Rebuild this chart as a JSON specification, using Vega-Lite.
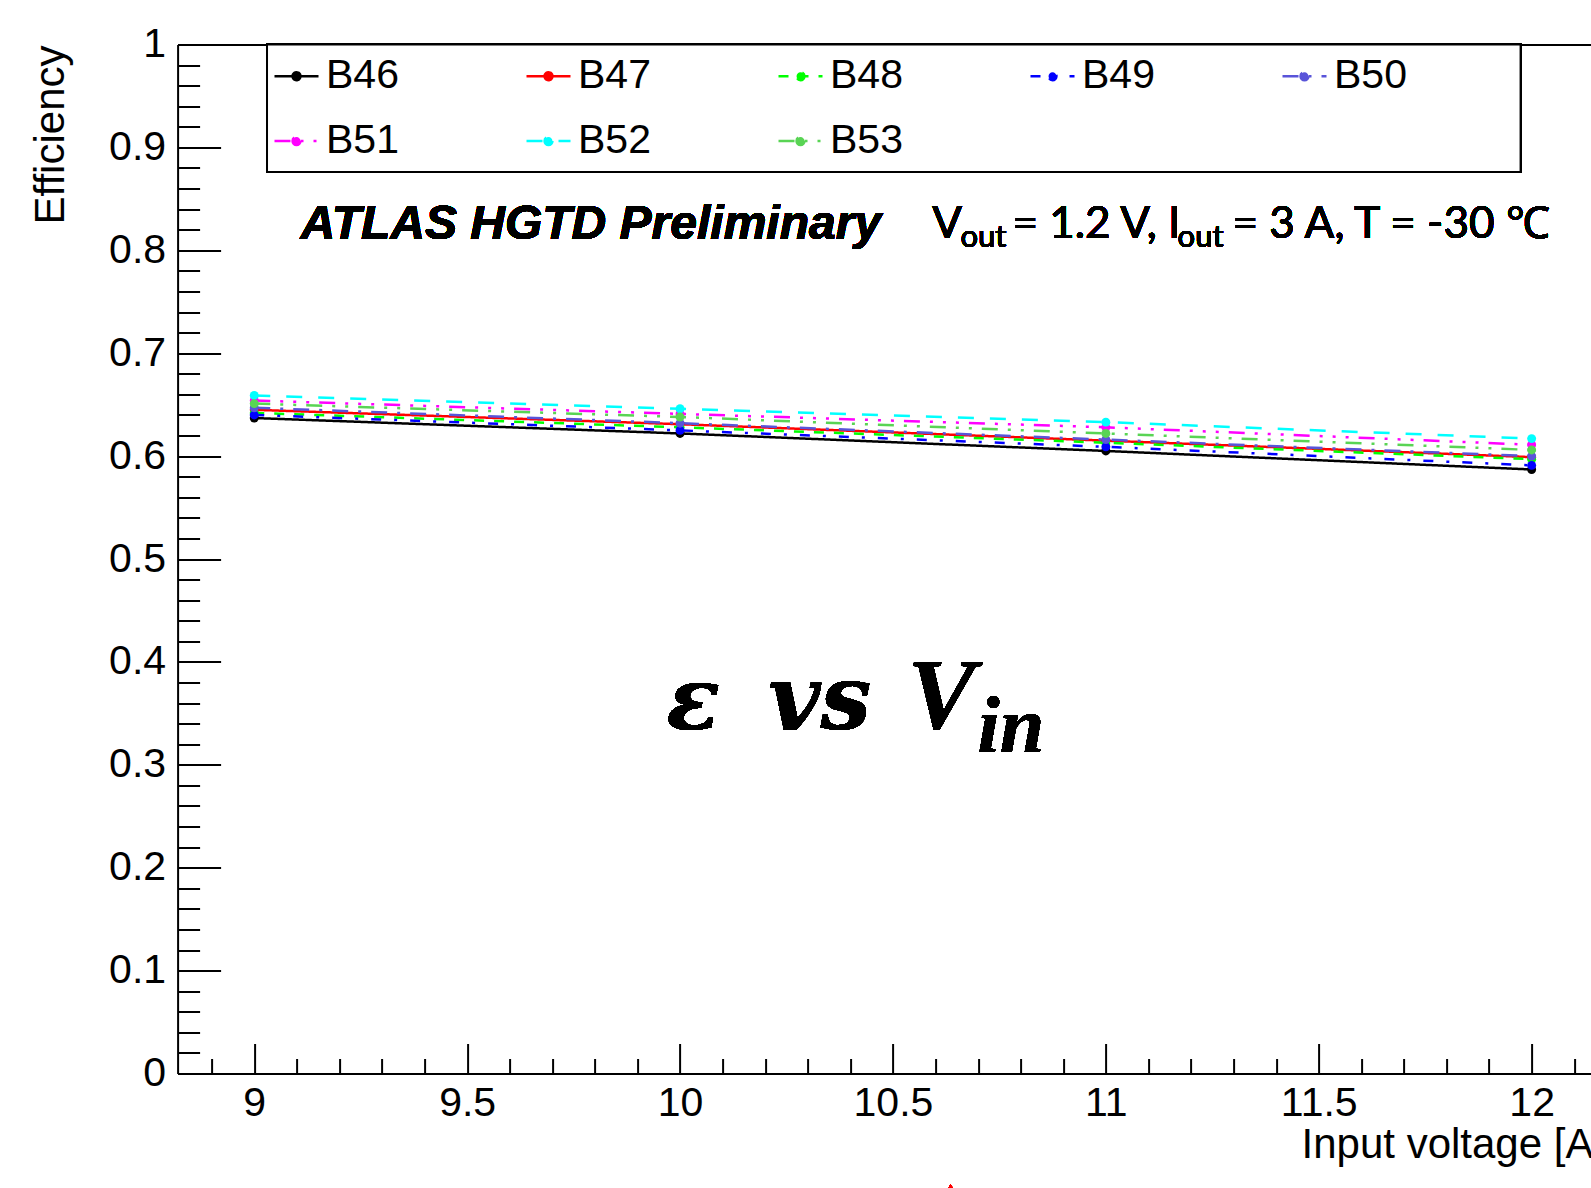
{
  "$schema": "https://vega.github.io/schema/vega-lite/v6.json",
  "width": 1413.4,
  "height": 1029,
  "autosize": {"type": "none"},
  "padding": {"left": 177.6, "right": 0, "top": 44.5, "bottom": 114.5},
  "background": "white",
  "config": {"view": {"stroke": null}, "font": "Liberation Sans"},
  "data": {"values": [
    {"vin": 9, "eff": 0.637, "board": "B46"}, {"vin": 10, "eff": 0.622, "board": "B46"}, {"vin": 11, "eff": 0.605, "board": "B46"}, {"vin": 12, "eff": 0.587, "board": "B46"},
    {"vin": 9, "eff": 0.645, "board": "B47"}, {"vin": 10, "eff": 0.631, "board": "B47"}, {"vin": 11, "eff": 0.615, "board": "B47"}, {"vin": 12, "eff": 0.599, "board": "B47"},
    {"vin": 9, "eff": 0.642, "board": "B48"}, {"vin": 10, "eff": 0.628, "board": "B48"}, {"vin": 11, "eff": 0.613, "board": "B48"}, {"vin": 12, "eff": 0.597, "board": "B48"},
    {"vin": 9, "eff": 0.640, "board": "B49"}, {"vin": 10, "eff": 0.625, "board": "B49"}, {"vin": 11, "eff": 0.609, "board": "B49"}, {"vin": 12, "eff": 0.591, "board": "B49"},
    {"vin": 9, "eff": 0.647, "board": "B50"}, {"vin": 10, "eff": 0.632, "board": "B50"}, {"vin": 11, "eff": 0.616, "board": "B50"}, {"vin": 12, "eff": 0.600, "board": "B50"},
    {"vin": 9, "eff": 0.654, "board": "B51"}, {"vin": 10, "eff": 0.641, "board": "B51"}, {"vin": 11, "eff": 0.628, "board": "B51"}, {"vin": 12, "eff": 0.611, "board": "B51"},
    {"vin": 9, "eff": 0.659, "board": "B52"}, {"vin": 10, "eff": 0.646, "board": "B52"}, {"vin": 11, "eff": 0.633, "board": "B52"}, {"vin": 12, "eff": 0.617, "board": "B52"},
    {"vin": 9, "eff": 0.651, "board": "B53"}, {"vin": 10, "eff": 0.638, "board": "B53"}, {"vin": 11, "eff": 0.622, "board": "B53"}, {"vin": 12, "eff": 0.606, "board": "B53"}
  ]},
  "resolve": {"axis": {"x": "independent", "y": "independent"}},
  "layer": [
    {
      "mark": {"type": "rect", "fill": "white", "stroke": "black", "strokeWidth": 2},
      "encoding": {
        "x": {"datum": 9.03, "type": "quantitative", "scale": {"domain": [8.82, 12.1394], "nice": false, "zero": false},
              "axis": {"orient": "bottom", "values": [8.9,9.1,9.2,9.3,9.4,9.6,9.7,9.8,9.9,10.1,10.2,10.3,10.4,10.6,10.7,10.8,10.9,11.1,11.2,11.3,11.4,11.6,11.7,11.8,11.9,12.1], "tickSize": -15, "tickWidth": 2, "tickColor": "black", "domain": false, "labels": false, "grid": false, "title": null}},
        "x2": {"datum": 11.974},
        "y": {"datum": 1, "type": "quantitative", "scale": {"domain": [0, 1], "nice": false, "zero": false},
              "axis": {"orient": "left", "values": [0.02,0.04,0.06,0.08,0.12,0.14,0.16,0.18,0.22,0.24,0.26,0.28,0.32,0.34,0.36,0.38,0.42,0.44,0.46,0.48,0.52,0.54,0.56,0.58,0.62,0.64,0.66,0.68,0.72,0.74,0.76,0.78,0.82,0.84,0.86,0.88,0.92,0.94,0.96,0.98], "tickSize": -22, "tickWidth": 2, "tickColor": "black", "domain": false, "labels": false, "grid": false, "title": null}},
        "y2": {"datum": 0.876}
      }
    },
    {
      "mark": {"type": "point", "shape": "triangle-up", "filled": true, "color": "#ff0000", "size": 300, "opacity": 1},
      "encoding": {
        "x": {"datum": 10.6355, "type": "quantitative", "scale": {"domain": [8.82, 12.1394], "nice": false, "zero": false},
              "axis": {"orient": "top", "domain": true, "domainColor": "black", "domainWidth": 2, "ticks": false, "labels": false, "grid": false, "title": null}},
        "y": {"datum": -0.115, "type": "quantitative", "scale": {"domain": [0, 1], "nice": false, "zero": false}, "axis": null}
      }
    },
    {
      "mark": {"type": "line", "strokeWidth": 2.5, "point": {"filled": true, "size": 80}},
      "encoding": {
        "x": {"field": "vin", "type": "quantitative", "scale": {"domain": [8.82, 12.1394], "nice": false, "zero": false},
              "axis": {"orient": "bottom", "values": [9, 9.5, 10, 10.5, 11, 11.5, 12], "format": "~g", "tickSize": -30, "tickWidth": 2, "tickColor": "black", "domainColor": "black", "domainWidth": 2, "grid": false,
                       "labelFont": "Liberation Sans", "labelFontSize": 41, "labelColor": "black", "labelPadding": 40, "labelFlush": false, "labelOverlap": false,
                       "title": "Input voltage [A]", "titleFont": "Liberation Sans", "titleFontSize": 42, "titleFontWeight": "normal", "titleColor": "black", "titleAngle": 0, "titleAlign": "right", "titleBaseline": "alphabetic", "titleX": 1427, "titleY": 84}},
        "y": {"field": "eff", "type": "quantitative", "scale": {"domain": [0, 1], "nice": false, "zero": false},
              "axis": {"orient": "left", "values": [0, 0.1, 0.2, 0.3, 0.4, 0.5, 0.6, 0.7, 0.8, 0.9, 1], "format": "~g", "tickSize": -43, "tickWidth": 2, "tickColor": "black", "domainColor": "black", "domainWidth": 2, "grid": false,
                       "labelFont": "Liberation Sans", "labelFontSize": 41, "labelColor": "black", "labelPadding": 55, "labelFlush": false, "labelOverlap": false,
                       "title": "Efficiency", "titleFont": "Liberation Sans", "titleFontSize": 42, "titleFontWeight": "normal", "titleColor": "black", "titleAngle": -90, "titleAlign": "right", "titleBaseline": "middle", "titleX": -127.6, "titleY": 0.5}},
        "color": {"field": "board", "type": "nominal",
                  "scale": {"domain": ["B46","B47","B48","B49","B50","B51","B52","B53"], "range": ["#000000","#ff0000","#00ff00","#0000ff","#5954d9","#ff00ff","#00ffff","#59d454"]},
                  "legend": {"orient": "none", "legendX": 95.4, "legendY": 8, "columns": 5, "direction": "horizontal", "title": null, "padding": 0,
                             "symbolType": "M-1,0L1,0M0.18,0A0.18,0.18,0,1,1,-0.18,0A0.18,0.18,0,1,1,0.18,0Z", "symbolSize": 1936, "symbolStrokeWidth": 2.5,
                             "labelFont": "Liberation Sans", "labelFontSize": 41, "labelColor": "black", "labelOffset": 6, "labelBaseline": "middle",
                             "columnPadding": 122, "rowPadding": 21, "gridAlign": "all",
                             "encode": {"symbols": {"update": {"fill": {"scale": "color", "field": "value"}, "fillOpacity": {"value": 1}, "opacity": {"value": 1}}}}}},
        "strokeDash": {"field": "board", "type": "nominal",
                       "scale": {"domain": ["B46","B47","B48","B49","B50","B51","B52","B53"], "range": [[1,0],[1,0],[10,10],[10,13,3,13],[16,10,3,10],[16,10,3,10,3,10,3,10],[16,16],[16,10,3,10,3,10]]},
                       "legend": {"orient": "none", "legendX": 95.4, "legendY": 8, "columns": 5, "direction": "horizontal", "title": null, "padding": 0,
                             "symbolType": "M-1,0L1,0M0.18,0A0.18,0.18,0,1,1,-0.18,0A0.18,0.18,0,1,1,0.18,0Z", "symbolSize": 1936, "symbolStrokeWidth": 2.5,
                             "labelFont": "Liberation Sans", "labelFontSize": 41, "labelColor": "black", "labelOffset": 6, "labelBaseline": "middle",
                             "columnPadding": 122, "rowPadding": 21, "gridAlign": "all"}}
      }
    },
    {
      "mark": {"type": "text", "text": "ATLAS HGTD Preliminary", "font": "Liberation Sans", "fontWeight": "bold", "fontStyle": "italic", "fontSize": 48, "align": "left", "baseline": "alphabetic", "color": "black"},
      "encoding": {
        "x": {"datum": 9.1087, "type": "quantitative", "scale": {"domain": [8.82, 12.1394], "nice": false, "zero": false}, "axis": null},
        "y": {"datum": 0.8111, "type": "quantitative", "scale": {"domain": [0, 1], "nice": false, "zero": false}, "axis": null}
      }
    },
    {
      "mark": {"type": "text", "text": "V", "font": "Lato", "fontSize": 44, "align": "left", "baseline": "alphabetic", "color": "black"},
      "encoding": {
        "x": {"datum": 10.5925, "type": "quantitative", "scale": {"domain": [8.82, 12.1394], "nice": false, "zero": false}, "axis": null},
        "y": {"datum": 0.812, "type": "quantitative", "scale": {"domain": [0, 1], "nice": false, "zero": false}, "axis": null}
      }
    },
    {
      "mark": {"type": "text", "text": "out", "font": "Lato", "fontSize": 31, "align": "left", "baseline": "alphabetic", "color": "black"},
      "encoding": {
        "x": {"datum": 10.6585, "type": "quantitative", "scale": {"domain": [8.82, 12.1394], "nice": false, "zero": false}, "axis": null},
        "y": {"datum": 0.8028, "type": "quantitative", "scale": {"domain": [0, 1], "nice": false, "zero": false}, "axis": null}
      }
    },
    {
      "mark": {"type": "text", "text": "= 1.2 V, I", "font": "Lato", "fontSize": 44, "align": "left", "baseline": "alphabetic", "color": "black"},
      "encoding": {
        "x": {"datum": 10.7805, "type": "quantitative", "scale": {"domain": [8.82, 12.1394], "nice": false, "zero": false}, "axis": null},
        "y": {"datum": 0.812, "type": "quantitative", "scale": {"domain": [0, 1], "nice": false, "zero": false}, "axis": null}
      }
    },
    {
      "mark": {"type": "text", "text": "out", "font": "Lato", "fontSize": 31, "align": "left", "baseline": "alphabetic", "color": "black"},
      "encoding": {
        "x": {"datum": 11.1685, "type": "quantitative", "scale": {"domain": [8.82, 12.1394], "nice": false, "zero": false}, "axis": null},
        "y": {"datum": 0.8028, "type": "quantitative", "scale": {"domain": [0, 1], "nice": false, "zero": false}, "axis": null}
      }
    },
    {
      "mark": {"type": "text", "text": "= 3 A, T = -30 ℃", "font": "Lato", "fontSize": 44, "align": "left", "baseline": "alphabetic", "color": "black"},
      "encoding": {
        "x": {"datum": 11.2975, "type": "quantitative", "scale": {"domain": [8.82, 12.1394], "nice": false, "zero": false}, "axis": null},
        "y": {"datum": 0.812, "type": "quantitative", "scale": {"domain": [0, 1], "nice": false, "zero": false}, "axis": null}
      }
    },
    {
      "mark": {"type": "text", "text": "ε", "font": "DejaVu Serif", "fontWeight": "bold", "fontStyle": "italic", "fontSize": 88, "align": "left", "baseline": "alphabetic", "color": "black"},
      "encoding": {
        "x": {"datum": 9.9683, "type": "quantitative", "scale": {"domain": [8.82, 12.1394], "nice": false, "zero": false}, "axis": null},
        "y": {"datum": 0.3351, "type": "quantitative", "scale": {"domain": [0, 1], "nice": false, "zero": false}, "axis": null}
      }
    },
    {
      "mark": {"type": "text", "text": "vs", "font": "DejaVu Serif", "fontWeight": "bold", "fontStyle": "italic", "fontSize": 90, "align": "left", "baseline": "alphabetic", "color": "black"},
      "encoding": {
        "x": {"datum": 10.2071, "type": "quantitative", "scale": {"domain": [8.82, 12.1394], "nice": false, "zero": false}, "axis": null},
        "y": {"datum": 0.3351, "type": "quantitative", "scale": {"domain": [0, 1], "nice": false, "zero": false}, "axis": null}
      }
    },
    {
      "mark": {"type": "text", "text": "V", "font": "Liberation Serif", "fontWeight": "bold", "fontStyle": "italic", "fontSize": 102, "align": "left", "baseline": "alphabetic", "color": "black"},
      "encoding": {
        "x": {"datum": 10.5343, "type": "quantitative", "scale": {"domain": [8.82, 12.1394], "nice": false, "zero": false}, "axis": null},
        "y": {"datum": 0.3351, "type": "quantitative", "scale": {"domain": [0, 1], "nice": false, "zero": false}, "axis": null}
      }
    },
    {
      "mark": {"type": "text", "text": "in", "font": "Liberation Serif", "fontWeight": "bold", "fontStyle": "italic", "fontSize": 80, "align": "left", "baseline": "alphabetic", "color": "black"},
      "encoding": {
        "x": {"datum": 10.6987, "type": "quantitative", "scale": {"domain": [8.82, 12.1394], "nice": false, "zero": false}, "axis": null},
        "y": {"datum": 0.3123, "type": "quantitative", "scale": {"domain": [0, 1], "nice": false, "zero": false}, "axis": null}
      }
    }
  ]
}
